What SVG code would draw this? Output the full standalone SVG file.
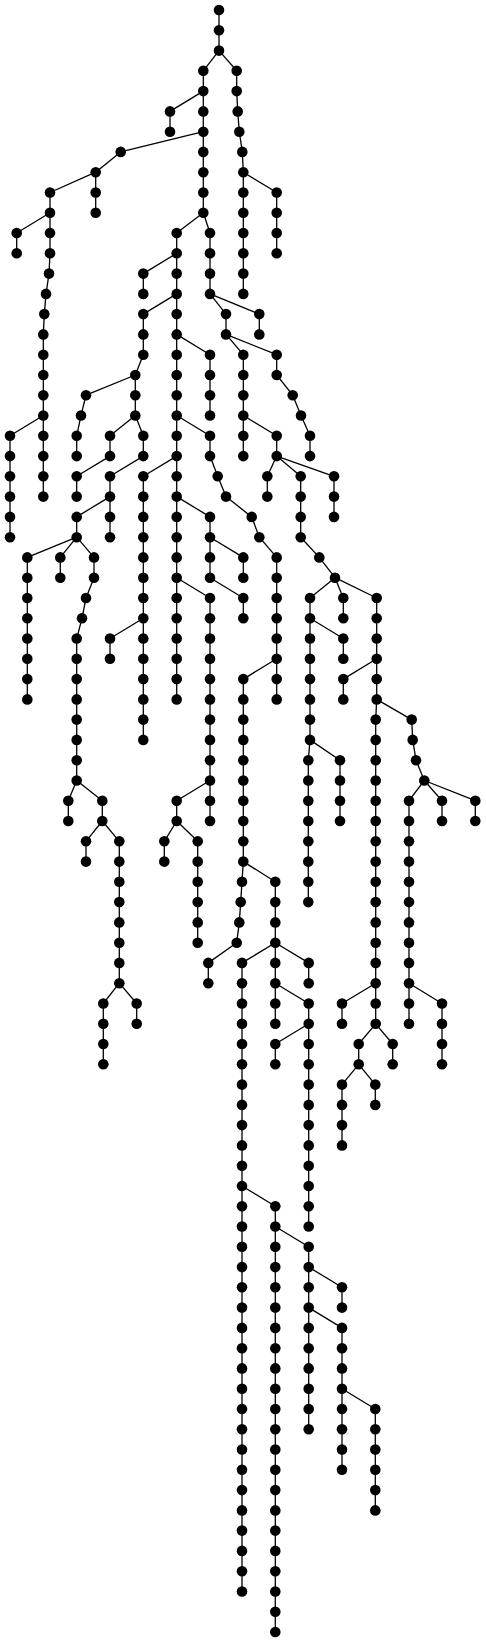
<svg xmlns="http://www.w3.org/2000/svg" width="486" height="1642" viewBox="0 0 486 1642">
<style>
#edges path{stroke:#000;stroke-width:1.3;fill:none}
circle{fill:#000}
</style>
<rect width="486" height="1642" fill="#fff"/>
<g id="edges">
<path d="M219 10V30.3"/><path d="M219 30.3V50.6"/><path d="M219 50.6L203.3 70.8"/><path d="M219 50.6L236.7 70.8"/>
<path d="M203.3 70.8V91.1"/><path d="M236.7 70.8V91.1"/>
<path d="M203.3 91.1L170 111.4"/><path d="M203.3 91.1V111.4"/><path d="M236.7 91.1L237.7 111.4"/>
<path d="M170 111.4V131.7"/><path d="M203.3 111.4V131.7"/><path d="M237.7 111.4L239.3 131.7"/>
<path d="M203.3 131.7L120.7 151.9"/><path d="M203.3 131.7V151.9"/><path d="M239.3 131.7L242.3 151.9"/>
<path d="M120.7 151.9L95.7 172.2"/><path d="M203.3 151.9V172.2"/><path d="M242.3 151.9L243.3 172.2"/>
<path d="M95.7 172.2L50 192.5"/><path d="M95.7 172.2V192.5"/><path d="M203.3 172.2V192.5"/><path d="M243.3 172.2V192.5"/><path d="M243.3 172.2L276.7 192.5"/>
<path d="M50 192.5V212.8"/><path d="M95.7 192.5V212.8"/><path d="M203.3 192.5V212.8"/><path d="M243.3 192.5V212.8"/><path d="M276.7 192.5V212.8"/>
<path d="M50 212.8L16.7 233"/><path d="M50 212.8V233"/><path d="M203.3 212.8L176.7 233"/><path d="M203.3 212.8L210 233"/><path d="M243.3 212.8V233"/><path d="M276.7 212.8V233"/>
<path d="M16.7 233V253.3"/><path d="M50 233V253.3"/><path d="M176.7 233V253.3"/><path d="M210 233V253.3"/><path d="M243.3 233V253.3"/><path d="M276.7 233V253.3"/>
<path d="M50 253.3L49 273.6"/><path d="M176.7 253.3L143.3 273.6"/><path d="M176.7 253.3V273.6"/><path d="M210 253.3V273.6"/><path d="M243.3 253.3V273.6"/>
<path d="M49 273.6L46 293.9"/><path d="M143.3 273.6V293.9"/><path d="M176.7 273.6V293.9"/><path d="M210 273.6V293.9"/><path d="M243.3 273.6V293.9"/>
<path d="M46 293.9L44.3 314.1"/><path d="M176.7 293.9L143.3 314.1"/><path d="M176.7 293.9V314.1"/><path d="M210 293.9L226 314.1"/><path d="M210 293.9L259.3 314.1"/>
<path d="M44.3 314.1L43.3 334.4"/><path d="M143.3 314.1V334.4"/><path d="M176.7 314.1V334.4"/><path d="M226 314.1V334.4"/><path d="M259.3 314.1V334.4"/>
<path d="M43.3 334.4V354.7"/><path d="M143.3 334.4V354.7"/><path d="M176.7 334.4V354.7"/><path d="M176.7 334.4L210 354.7"/><path d="M226 334.4L243.3 354.7"/><path d="M226 334.4L276.7 354.7"/>
<path d="M43.3 354.7V375"/><path d="M143.3 354.7L135.3 375"/><path d="M176.7 354.7V375"/><path d="M210 354.7V375"/><path d="M243.3 354.7V375"/><path d="M276.7 354.7V375"/>
<path d="M43.3 375V395.2"/><path d="M135.3 375L86 395.2"/><path d="M135.3 375V395.2"/><path d="M176.7 375V395.2"/><path d="M210 375V395.2"/><path d="M243.3 375V395.2"/><path d="M276.7 375L292.7 395.2"/>
<path d="M43.3 395.2V415.5"/><path d="M86 395.2L81 415.5"/><path d="M135.3 395.2V415.5"/><path d="M176.7 395.2V415.5"/><path d="M210 395.2V415.5"/><path d="M243.3 395.2V415.5"/><path d="M292.7 395.2L301 415.5"/>
<path d="M43.3 415.5L10 435.8"/><path d="M43.3 415.5V435.8"/><path d="M81 415.5L76.7 435.8"/><path d="M135.3 415.5L110 435.8"/><path d="M135.3 415.5L143.3 435.8"/><path d="M176.7 415.5V435.8"/><path d="M176.7 415.5L210 435.8"/><path d="M243.3 415.5V435.8"/><path d="M243.3 415.5L276.7 435.8"/><path d="M301 415.5L310 435.8"/>
<path d="M10 435.8V456.1"/><path d="M43.3 435.8V456.1"/><path d="M76.7 435.8V456.1"/><path d="M110 435.8V456.1"/><path d="M143.3 435.8V456.1"/><path d="M176.7 435.8V456.1"/><path d="M210 435.8V456.1"/><path d="M243.3 435.8V456.1"/><path d="M276.7 435.8V456.1"/><path d="M310 435.8V456.1"/>
<path d="M10 456.1V476.3"/><path d="M43.3 456.1V476.3"/><path d="M110 456.1L76.7 476.3"/><path d="M143.3 456.1L110 476.3"/><path d="M176.7 456.1L143.3 476.3"/><path d="M176.7 456.1V476.3"/><path d="M210 456.1L217.7 476.3"/><path d="M276.7 456.1L267.3 476.3"/><path d="M276.7 456.1L300.7 476.3"/><path d="M276.7 456.1L334 476.3"/>
<path d="M10 476.3V496.6"/><path d="M43.3 476.3V496.6"/><path d="M76.7 476.3V496.6"/><path d="M110 476.3V496.6"/><path d="M143.3 476.3V496.6"/><path d="M176.7 476.3V496.6"/><path d="M217.7 476.3L226 496.6"/><path d="M267.3 476.3V496.6"/><path d="M300.7 476.3V496.6"/><path d="M334 476.3V496.6"/>
<path d="M10 496.6V516.9"/><path d="M110 496.6L76.7 516.9"/><path d="M110 496.6V516.9"/><path d="M143.3 496.6V516.9"/><path d="M176.7 496.6V516.9"/><path d="M176.7 496.6L210 516.9"/><path d="M226 496.6L251.7 516.9"/><path d="M300.7 496.6V516.9"/><path d="M334 496.6V516.9"/>
<path d="M10 516.9V537.2"/><path d="M76.7 516.9V537.2"/><path d="M110 516.9V537.2"/><path d="M143.3 516.9V537.2"/><path d="M176.7 516.9V537.2"/><path d="M210 516.9V537.2"/><path d="M251.7 516.9L259.3 537.2"/><path d="M300.7 516.9V537.2"/>
<path d="M76.7 537.2L27.3 557.4"/><path d="M76.7 537.2L60.3 557.4"/><path d="M76.7 537.2L94 557.4"/><path d="M143.3 537.2V557.4"/><path d="M176.7 537.2V557.4"/><path d="M210 537.2V557.4"/><path d="M210 537.2L243.3 557.4"/><path d="M259.3 537.2L276.7 557.4"/><path d="M300.7 537.2L319.3 557.4"/>
<path d="M27.3 557.4V577.7"/><path d="M60.3 557.4V577.7"/><path d="M94 557.4V577.7"/><path d="M143.3 557.4V577.7"/><path d="M176.7 557.4V577.7"/><path d="M210 557.4V577.7"/><path d="M243.3 557.4V577.7"/><path d="M276.7 557.4V577.7"/><path d="M319.3 557.4L335 577.7"/>
<path d="M27.3 577.7V598"/><path d="M94 577.7L86 598"/><path d="M143.3 577.7V598"/><path d="M176.7 577.7V598"/><path d="M176.7 577.7L210 598"/><path d="M210 577.7L243.3 598"/><path d="M276.7 577.7V598"/><path d="M335 577.7L310 598"/><path d="M335 577.7L343.3 598"/><path d="M335 577.7L376.7 598"/>
<path d="M27.3 598V618.3"/><path d="M86 598L82 618.3"/><path d="M143.3 598V618.3"/><path d="M176.7 598V618.3"/><path d="M210 598V618.3"/><path d="M243.3 598V618.3"/><path d="M276.7 598V618.3"/><path d="M310 598V618.3"/><path d="M343.3 598V618.3"/><path d="M376.7 598V618.3"/>
<path d="M27.3 618.3V638.5"/><path d="M82 618.3L76.7 638.5"/><path d="M143.3 618.3L110 638.5"/><path d="M143.3 618.3V638.5"/><path d="M176.7 618.3V638.5"/><path d="M210 618.3V638.5"/><path d="M276.7 618.3V638.5"/><path d="M310 618.3V638.5"/><path d="M310 618.3L343.3 638.5"/><path d="M376.7 618.3V638.5"/>
<path d="M27.3 638.5V658.8"/><path d="M76.7 638.5V658.8"/><path d="M110 638.5V658.8"/><path d="M143.3 638.5V658.8"/><path d="M176.7 638.5V658.8"/><path d="M210 638.5V658.8"/><path d="M276.7 638.5V658.8"/><path d="M310 638.5V658.8"/><path d="M343.3 638.5V658.8"/><path d="M376.7 638.5V658.8"/>
<path d="M27.3 658.8V679.1"/><path d="M76.7 658.8V679.1"/><path d="M143.3 658.8V679.1"/><path d="M176.7 658.8V679.1"/><path d="M210 658.8V679.1"/><path d="M276.7 658.8L243.3 679.1"/><path d="M276.7 658.8V679.1"/><path d="M310 658.8V679.1"/><path d="M376.7 658.8L343.3 679.1"/><path d="M376.7 658.8V679.1"/>
<path d="M27.3 679.1V699.4"/><path d="M76.7 679.1V699.4"/><path d="M143.3 679.1V699.4"/><path d="M176.7 679.1V699.4"/><path d="M210 679.1V699.4"/><path d="M243.3 679.1V699.4"/><path d="M276.7 679.1V699.4"/><path d="M310 679.1V699.4"/><path d="M343.3 679.1V699.4"/><path d="M376.7 679.1V699.4"/>
<path d="M76.7 699.4V719.6"/><path d="M143.3 699.4V719.6"/><path d="M210 699.4V719.6"/><path d="M243.3 699.4V719.6"/><path d="M310 699.4V719.6"/><path d="M376.7 699.4L375.7 719.6"/><path d="M376.7 699.4L411.7 719.6"/>
<path d="M76.7 719.6V739.9"/><path d="M143.3 719.6V739.9"/><path d="M210 719.6V739.9"/><path d="M243.3 719.6V739.9"/><path d="M310 719.6V739.9"/><path d="M375.7 719.6V739.9"/><path d="M411.7 719.6L412.7 739.9"/>
<path d="M76.7 739.9V760.2"/><path d="M210 739.9V760.2"/><path d="M243.3 739.9V760.2"/><path d="M310 739.9L308.3 760.2"/><path d="M310 739.9L340 760.2"/><path d="M375.7 739.9V760.2"/><path d="M412.7 739.9L416 760.2"/>
<path d="M76.7 760.2V780.5"/><path d="M210 760.2V780.5"/><path d="M243.3 760.2V780.5"/><path d="M308.3 760.2V780.5"/><path d="M340 760.2V780.5"/><path d="M375.7 760.2V780.5"/><path d="M416 760.2L424.3 780.5"/>
<path d="M76.7 780.5L68.3 800.7"/><path d="M76.7 780.5L102.3 800.7"/><path d="M210 780.5L176.7 800.7"/><path d="M210 780.5V800.7"/><path d="M243.3 780.5V800.7"/><path d="M308.3 780.5V800.7"/><path d="M340 780.5V800.7"/><path d="M375.7 780.5V800.7"/><path d="M424.3 780.5L409 800.7"/><path d="M424.3 780.5L442 800.7"/><path d="M424.3 780.5L475.3 800.7"/>
<path d="M68.3 800.7V821"/><path d="M102.3 800.7V821"/><path d="M176.7 800.7V821"/><path d="M210 800.7V821"/><path d="M243.3 800.7V821"/><path d="M308.3 800.7V821"/><path d="M340 800.7V821"/><path d="M375.7 800.7V821"/><path d="M409 800.7V821"/><path d="M442 800.7V821"/><path d="M475.3 800.7V821"/>
<path d="M102.3 821L86 841.3"/><path d="M102.3 821L119.3 841.3"/><path d="M176.7 821L164.3 841.3"/><path d="M176.7 821L197.7 841.3"/><path d="M243.3 821V841.3"/><path d="M308.3 821V841.3"/><path d="M375.7 821V841.3"/><path d="M409 821V841.3"/>
<path d="M86 841.3V861.6"/><path d="M119.3 841.3V861.6"/><path d="M164.3 841.3V861.6"/><path d="M197.7 841.3V861.6"/><path d="M243.3 841.3V861.6"/><path d="M308.3 841.3V861.6"/><path d="M375.7 841.3V861.6"/><path d="M409 841.3V861.6"/>
<path d="M119.3 861.6V881.8"/><path d="M197.7 861.6V881.8"/><path d="M243.3 861.6L242 881.8"/><path d="M243.3 861.6L275.3 881.8"/><path d="M308.3 861.6V881.8"/><path d="M375.7 861.6V881.8"/><path d="M409 861.6V881.8"/>
<path d="M119.3 881.8V902.1"/><path d="M197.7 881.8V902.1"/><path d="M242 881.8L240.7 902.1"/><path d="M275.3 881.8V902.1"/><path d="M308.3 881.8V902.1"/><path d="M375.7 881.8V902.1"/><path d="M409 881.8V902.1"/>
<path d="M119.3 902.1V922.4"/><path d="M197.7 902.1V922.4"/><path d="M240.7 902.1L239.3 922.4"/><path d="M275.3 902.1V922.4"/><path d="M375.7 902.1V922.4"/><path d="M409 902.1V922.4"/>
<path d="M119.3 922.4V942.7"/><path d="M197.7 922.4V942.7"/><path d="M239.3 922.4L236.7 942.7"/><path d="M275.3 922.4V942.7"/><path d="M375.7 922.4V942.7"/><path d="M409 922.4V942.7"/>
<path d="M119.3 942.7V962.9"/><path d="M236.7 942.7L208.3 962.9"/><path d="M275.3 942.7L242 962.9"/><path d="M275.3 942.7V962.9"/><path d="M275.3 942.7L308.7 962.9"/><path d="M375.7 942.7V962.9"/><path d="M409 942.7V962.9"/>
<path d="M119.3 962.9V983.2"/><path d="M208.3 962.9V983.2"/><path d="M242 962.9V983.2"/><path d="M275.3 962.9V983.2"/><path d="M308.7 962.9V983.2"/><path d="M375.7 962.9V983.2"/><path d="M409 962.9V983.2"/>
<path d="M119.3 983.2L103.3 1003.5"/><path d="M119.3 983.2L136.7 1003.5"/><path d="M242 983.2V1003.5"/><path d="M275.3 983.2V1003.5"/><path d="M275.3 983.2L308.7 1003.5"/><path d="M375.7 983.2L342 1003.5"/><path d="M375.7 983.2V1003.5"/><path d="M409 983.2V1003.5"/><path d="M409 983.2L442 1003.5"/>
<path d="M103.3 1003.5V1023.8"/><path d="M136.7 1003.5V1023.8"/><path d="M242 1003.5V1023.8"/><path d="M275.3 1003.5V1023.8"/><path d="M308.7 1003.5V1023.8"/><path d="M342 1003.5V1023.8"/><path d="M375.7 1003.5V1023.8"/><path d="M409 1003.5V1023.8"/><path d="M442 1003.5V1023.8"/>
<path d="M103.3 1023.8V1044"/><path d="M242 1023.8V1044"/><path d="M308.7 1023.8L275.3 1044"/><path d="M308.7 1023.8V1044"/><path d="M375.7 1023.8L358.7 1044"/><path d="M375.7 1023.8L392.7 1044"/><path d="M442 1023.8V1044"/>
<path d="M103.3 1044V1064.3"/><path d="M242 1044V1064.3"/><path d="M275.3 1044V1064.3"/><path d="M308.7 1044V1064.3"/><path d="M358.7 1044V1064.3"/><path d="M392.7 1044V1064.3"/><path d="M442 1044V1064.3"/>
<path d="M242 1064.3V1084.6"/><path d="M308.7 1064.3V1084.6"/><path d="M358.7 1064.3L342 1084.6"/><path d="M358.7 1064.3L375.3 1084.6"/>
<path d="M242 1084.6V1104.9"/><path d="M308.7 1084.6V1104.9"/><path d="M342 1084.6V1104.9"/><path d="M375.3 1084.6V1104.9"/>
<path d="M242 1104.9V1125.1"/><path d="M308.7 1104.9V1125.1"/><path d="M342 1104.9V1125.1"/>
<path d="M242 1125.1V1145.4"/><path d="M308.7 1125.1V1145.4"/><path d="M342 1125.1V1145.4"/>
<path d="M242 1145.4V1165.7"/><path d="M308.7 1145.4V1165.7"/>
<path d="M242 1165.7V1186"/><path d="M308.7 1165.7V1186"/>
<path d="M242 1186V1206.2"/><path d="M242 1186L275.3 1206.2"/><path d="M308.7 1186V1206.2"/>
<path d="M242 1206.2V1226.5"/><path d="M275.3 1206.2V1226.5"/><path d="M308.7 1206.2V1226.5"/>
<path d="M242 1226.5V1246.8"/><path d="M275.3 1226.5V1246.8"/><path d="M275.3 1226.5L308.7 1246.8"/>
<path d="M242 1246.8V1267.1"/><path d="M275.3 1246.8V1267.1"/><path d="M308.7 1246.8V1267.1"/>
<path d="M242 1267.1V1287.3"/><path d="M275.3 1267.1V1287.3"/><path d="M308.7 1267.1V1287.3"/><path d="M308.7 1267.1L342 1287.3"/>
<path d="M242 1287.3V1307.6"/><path d="M275.3 1287.3V1307.6"/><path d="M308.7 1287.3V1307.6"/><path d="M342 1287.3V1307.6"/>
<path d="M242 1307.6V1327.9"/><path d="M275.3 1307.6V1327.9"/><path d="M308.7 1307.6V1327.9"/><path d="M308.7 1307.6L342 1327.9"/>
<path d="M242 1327.9V1348.2"/><path d="M275.3 1327.9V1348.2"/><path d="M308.7 1327.9V1348.2"/><path d="M342 1327.9V1348.2"/>
<path d="M242 1348.2V1368.4"/><path d="M275.3 1348.2V1368.4"/><path d="M308.7 1348.2V1368.4"/><path d="M342 1348.2V1368.4"/>
<path d="M242 1368.4V1388.7"/><path d="M275.3 1368.4V1388.7"/><path d="M308.7 1368.4V1388.7"/><path d="M342 1368.4V1388.7"/>
<path d="M242 1388.7V1409"/><path d="M275.3 1388.7V1409"/><path d="M308.7 1388.7V1409"/><path d="M342 1388.7V1409"/><path d="M342 1388.7L375.3 1409"/>
<path d="M242 1409V1429.3"/><path d="M275.3 1409V1429.3"/><path d="M308.7 1409V1429.3"/><path d="M342 1409V1429.3"/><path d="M375.3 1409V1429.3"/>
<path d="M242 1429.3V1449.5"/><path d="M275.3 1429.3V1449.5"/><path d="M342 1429.3V1449.5"/><path d="M375.3 1429.3V1449.5"/>
<path d="M242 1449.5V1469.8"/><path d="M275.3 1449.5V1469.8"/><path d="M342 1449.5V1469.8"/><path d="M375.3 1449.5V1469.8"/>
<path d="M242 1469.8V1490.1"/><path d="M275.3 1469.8V1490.1"/><path d="M375.3 1469.8V1490.1"/>
<path d="M242 1490.1V1510.4"/><path d="M275.3 1490.1V1510.4"/><path d="M375.3 1490.1V1510.4"/>
<path d="M242 1510.4V1530.6"/><path d="M275.3 1510.4V1530.6"/>
<path d="M242 1530.6V1550.9"/><path d="M275.3 1530.6V1550.9"/>
<path d="M242 1550.9V1571.2"/><path d="M275.3 1550.9V1571.2"/>
<path d="M242 1571.2V1591.5"/><path d="M275.3 1571.2V1591.5"/>
<path d="M275.3 1591.5V1611.7"/><path d="M275.3 1611.7V1632"/>
</g>
<g id="n0"><circle cx="219" cy="10" r="5.3"/></g>
<g id="n1"><circle cx="219" cy="30.3" r="5.3"/></g>
<g id="n2"><circle cx="219" cy="50.6" r="5.3"/></g>
<g id="n3"><circle cx="203.3" cy="70.8" r="5.3"/></g>
<g id="n4"><circle cx="236.7" cy="70.8" r="5.3"/></g>
<g id="n5"><circle cx="203.3" cy="91.1" r="5.3"/></g>
<g id="n6"><circle cx="236.7" cy="91.1" r="5.3"/></g>
<g id="n7"><circle cx="170" cy="111.4" r="5.3"/></g>
<g id="n8"><circle cx="203.3" cy="111.4" r="5.3"/></g>
<g id="n9"><circle cx="237.7" cy="111.4" r="5.3"/></g>
<g id="n10"><circle cx="170" cy="131.7" r="5.3"/></g>
<g id="n11"><circle cx="203.3" cy="131.7" r="5.3"/></g>
<g id="n12"><circle cx="239.3" cy="131.7" r="5.3"/></g>
<g id="n13"><circle cx="120.7" cy="151.9" r="5.3"/></g>
<g id="n14"><circle cx="203.3" cy="151.9" r="5.3"/></g>
<g id="n15"><circle cx="242.3" cy="151.9" r="5.3"/></g>
<g id="n16"><circle cx="95.7" cy="172.2" r="5.3"/></g>
<g id="n17"><circle cx="203.3" cy="172.2" r="5.3"/></g>
<g id="n18"><circle cx="243.3" cy="172.2" r="5.3"/></g>
<g id="n19"><circle cx="50" cy="192.5" r="5.3"/></g>
<g id="n20"><circle cx="95.7" cy="192.5" r="5.3"/></g>
<g id="n21"><circle cx="203.3" cy="192.5" r="5.3"/></g>
<g id="n22"><circle cx="243.3" cy="192.5" r="5.3"/></g>
<g id="n23"><circle cx="276.7" cy="192.5" r="5.3"/></g>
<g id="n24"><circle cx="50" cy="212.8" r="5.3"/></g>
<g id="n25"><circle cx="95.7" cy="212.8" r="5.3"/></g>
<g id="n26"><circle cx="203.3" cy="212.8" r="5.3"/></g>
<g id="n27"><circle cx="243.3" cy="212.8" r="5.3"/></g>
<g id="n28"><circle cx="276.7" cy="212.8" r="5.3"/></g>
<g id="n29"><circle cx="16.7" cy="233" r="5.3"/></g>
<g id="n30"><circle cx="50" cy="233" r="5.3"/></g>
<g id="n31"><circle cx="176.7" cy="233" r="5.3"/></g>
<g id="n32"><circle cx="210" cy="233" r="5.3"/></g>
<g id="n33"><circle cx="243.3" cy="233" r="5.3"/></g>
<g id="n34"><circle cx="276.7" cy="233" r="5.3"/></g>
<g id="n35"><circle cx="16.7" cy="253.3" r="5.3"/></g>
<g id="n36"><circle cx="50" cy="253.3" r="5.3"/></g>
<g id="n37"><circle cx="176.7" cy="253.3" r="5.3"/></g>
<g id="n38"><circle cx="210" cy="253.3" r="5.3"/></g>
<g id="n39"><circle cx="243.3" cy="253.3" r="5.3"/></g>
<g id="n40"><circle cx="276.7" cy="253.3" r="5.3"/></g>
<g id="n41"><circle cx="49" cy="273.6" r="5.3"/></g>
<g id="n42"><circle cx="143.3" cy="273.6" r="5.3"/></g>
<g id="n43"><circle cx="176.7" cy="273.6" r="5.3"/></g>
<g id="n44"><circle cx="210" cy="273.6" r="5.3"/></g>
<g id="n45"><circle cx="243.3" cy="273.6" r="5.3"/></g>
<g id="n46"><circle cx="46" cy="293.9" r="5.3"/></g>
<g id="n47"><circle cx="143.3" cy="293.9" r="5.3"/></g>
<g id="n48"><circle cx="176.7" cy="293.9" r="5.3"/></g>
<g id="n49"><circle cx="210" cy="293.9" r="5.3"/></g>
<g id="n50"><circle cx="243.3" cy="293.9" r="5.3"/></g>
<g id="n51"><circle cx="44.3" cy="314.1" r="5.3"/></g>
<g id="n52"><circle cx="143.3" cy="314.1" r="5.3"/></g>
<g id="n53"><circle cx="176.7" cy="314.1" r="5.3"/></g>
<g id="n54"><circle cx="226" cy="314.1" r="5.3"/></g>
<g id="n55"><circle cx="259.3" cy="314.1" r="5.3"/></g>
<g id="n56"><circle cx="43.3" cy="334.4" r="5.3"/></g>
<g id="n57"><circle cx="143.3" cy="334.4" r="5.3"/></g>
<g id="n58"><circle cx="176.7" cy="334.4" r="5.3"/></g>
<g id="n59"><circle cx="226" cy="334.4" r="5.3"/></g>
<g id="n60"><circle cx="259.3" cy="334.4" r="5.3"/></g>
<g id="n61"><circle cx="43.3" cy="354.7" r="5.3"/></g>
<g id="n62"><circle cx="143.3" cy="354.7" r="5.3"/></g>
<g id="n63"><circle cx="176.7" cy="354.7" r="5.3"/></g>
<g id="n64"><circle cx="210" cy="354.7" r="5.3"/></g>
<g id="n65"><circle cx="243.3" cy="354.7" r="5.3"/></g>
<g id="n66"><circle cx="276.7" cy="354.7" r="5.3"/></g>
<g id="n67"><circle cx="43.3" cy="375" r="5.3"/></g>
<g id="n68"><circle cx="135.3" cy="375" r="5.3"/></g>
<g id="n69"><circle cx="176.7" cy="375" r="5.3"/></g>
<g id="n70"><circle cx="210" cy="375" r="5.3"/></g>
<g id="n71"><circle cx="243.3" cy="375" r="5.3"/></g>
<g id="n72"><circle cx="276.7" cy="375" r="5.3"/></g>
<g id="n73"><circle cx="43.3" cy="395.2" r="5.3"/></g>
<g id="n74"><circle cx="86" cy="395.2" r="5.3"/></g>
<g id="n75"><circle cx="135.3" cy="395.2" r="5.3"/></g>
<g id="n76"><circle cx="176.7" cy="395.2" r="5.3"/></g>
<g id="n77"><circle cx="210" cy="395.2" r="5.3"/></g>
<g id="n78"><circle cx="243.3" cy="395.2" r="5.3"/></g>
<g id="n79"><circle cx="292.7" cy="395.2" r="5.3"/></g>
<g id="n80"><circle cx="43.3" cy="415.5" r="5.3"/></g>
<g id="n81"><circle cx="81" cy="415.5" r="5.3"/></g>
<g id="n82"><circle cx="135.3" cy="415.5" r="5.3"/></g>
<g id="n83"><circle cx="176.7" cy="415.5" r="5.3"/></g>
<g id="n84"><circle cx="210" cy="415.5" r="5.3"/></g>
<g id="n85"><circle cx="243.3" cy="415.5" r="5.3"/></g>
<g id="n86"><circle cx="301" cy="415.5" r="5.3"/></g>
<g id="n87"><circle cx="10" cy="435.8" r="5.3"/></g>
<g id="n88"><circle cx="43.3" cy="435.8" r="5.3"/></g>
<g id="n89"><circle cx="76.7" cy="435.8" r="5.3"/></g>
<g id="n90"><circle cx="110" cy="435.8" r="5.3"/></g>
<g id="n91"><circle cx="143.3" cy="435.8" r="5.3"/></g>
<g id="n92"><circle cx="176.7" cy="435.8" r="5.3"/></g>
<g id="n93"><circle cx="210" cy="435.8" r="5.3"/></g>
<g id="n94"><circle cx="243.3" cy="435.8" r="5.3"/></g>
<g id="n95"><circle cx="276.7" cy="435.8" r="5.3"/></g>
<g id="n96"><circle cx="310" cy="435.8" r="5.3"/></g>
<g id="n97"><circle cx="10" cy="456.1" r="5.3"/></g>
<g id="n98"><circle cx="43.3" cy="456.1" r="5.3"/></g>
<g id="n99"><circle cx="76.7" cy="456.1" r="5.3"/></g>
<g id="n100"><circle cx="110" cy="456.1" r="5.3"/></g>
<g id="n101"><circle cx="143.3" cy="456.1" r="5.3"/></g>
<g id="n102"><circle cx="176.7" cy="456.1" r="5.3"/></g>
<g id="n103"><circle cx="210" cy="456.1" r="5.3"/></g>
<g id="n104"><circle cx="243.3" cy="456.1" r="5.3"/></g>
<g id="n105"><circle cx="276.7" cy="456.1" r="5.3"/></g>
<g id="n106"><circle cx="310" cy="456.1" r="5.3"/></g>
<g id="n107"><circle cx="10" cy="476.3" r="5.3"/></g>
<g id="n108"><circle cx="43.3" cy="476.3" r="5.3"/></g>
<g id="n109"><circle cx="76.7" cy="476.3" r="5.3"/></g>
<g id="n110"><circle cx="110" cy="476.3" r="5.3"/></g>
<g id="n111"><circle cx="143.3" cy="476.3" r="5.3"/></g>
<g id="n112"><circle cx="176.7" cy="476.3" r="5.3"/></g>
<g id="n113"><circle cx="217.7" cy="476.3" r="5.3"/></g>
<g id="n114"><circle cx="267.3" cy="476.3" r="5.3"/></g>
<g id="n115"><circle cx="300.7" cy="476.3" r="5.3"/></g>
<g id="n116"><circle cx="334" cy="476.3" r="5.3"/></g>
<g id="n117"><circle cx="10" cy="496.6" r="5.3"/></g>
<g id="n118"><circle cx="43.3" cy="496.6" r="5.3"/></g>
<g id="n119"><circle cx="76.7" cy="496.6" r="5.3"/></g>
<g id="n120"><circle cx="110" cy="496.6" r="5.3"/></g>
<g id="n121"><circle cx="143.3" cy="496.6" r="5.3"/></g>
<g id="n122"><circle cx="176.7" cy="496.6" r="5.3"/></g>
<g id="n123"><circle cx="226" cy="496.6" r="5.3"/></g>
<g id="n124"><circle cx="267.3" cy="496.6" r="5.3"/></g>
<g id="n125"><circle cx="300.7" cy="496.6" r="5.3"/></g>
<g id="n126"><circle cx="334" cy="496.6" r="5.3"/></g>
<g id="n127"><circle cx="10" cy="516.9" r="5.3"/></g>
<g id="n128"><circle cx="76.7" cy="516.9" r="5.3"/></g>
<g id="n129"><circle cx="110" cy="516.9" r="5.3"/></g>
<g id="n130"><circle cx="143.3" cy="516.9" r="5.3"/></g>
<g id="n131"><circle cx="176.7" cy="516.9" r="5.3"/></g>
<g id="n132"><circle cx="210" cy="516.9" r="5.3"/></g>
<g id="n133"><circle cx="251.7" cy="516.9" r="5.3"/></g>
<g id="n134"><circle cx="300.7" cy="516.9" r="5.3"/></g>
<g id="n135"><circle cx="334" cy="516.9" r="5.3"/></g>
<g id="n136"><circle cx="10" cy="537.2" r="5.3"/></g>
<g id="n137"><circle cx="76.7" cy="537.2" r="5.3"/></g>
<g id="n138"><circle cx="110" cy="537.2" r="5.3"/></g>
<g id="n139"><circle cx="143.3" cy="537.2" r="5.3"/></g>
<g id="n140"><circle cx="176.7" cy="537.2" r="5.3"/></g>
<g id="n141"><circle cx="210" cy="537.2" r="5.3"/></g>
<g id="n142"><circle cx="259.3" cy="537.2" r="5.3"/></g>
<g id="n143"><circle cx="300.7" cy="537.2" r="5.3"/></g>
<g id="n144"><circle cx="27.3" cy="557.4" r="5.3"/></g>
<g id="n145"><circle cx="60.3" cy="557.4" r="5.3"/></g>
<g id="n146"><circle cx="94" cy="557.4" r="5.3"/></g>
<g id="n147"><circle cx="143.3" cy="557.4" r="5.3"/></g>
<g id="n148"><circle cx="176.7" cy="557.4" r="5.3"/></g>
<g id="n149"><circle cx="210" cy="557.4" r="5.3"/></g>
<g id="n150"><circle cx="243.3" cy="557.4" r="5.3"/></g>
<g id="n151"><circle cx="276.7" cy="557.4" r="5.3"/></g>
<g id="n152"><circle cx="319.3" cy="557.4" r="5.3"/></g>
<g id="n153"><circle cx="27.3" cy="577.7" r="5.3"/></g>
<g id="n154"><circle cx="60.3" cy="577.7" r="5.3"/></g>
<g id="n155"><circle cx="94" cy="577.7" r="5.3"/></g>
<g id="n156"><circle cx="143.3" cy="577.7" r="5.3"/></g>
<g id="n157"><circle cx="176.7" cy="577.7" r="5.3"/></g>
<g id="n158"><circle cx="210" cy="577.7" r="5.3"/></g>
<g id="n159"><circle cx="243.3" cy="577.7" r="5.3"/></g>
<g id="n160"><circle cx="276.7" cy="577.7" r="5.3"/></g>
<g id="n161"><circle cx="335" cy="577.7" r="5.3"/></g>
<g id="n162"><circle cx="27.3" cy="598" r="5.3"/></g>
<g id="n163"><circle cx="86" cy="598" r="5.3"/></g>
<g id="n164"><circle cx="143.3" cy="598" r="5.3"/></g>
<g id="n165"><circle cx="176.7" cy="598" r="5.3"/></g>
<g id="n166"><circle cx="210" cy="598" r="5.3"/></g>
<g id="n167"><circle cx="243.3" cy="598" r="5.3"/></g>
<g id="n168"><circle cx="276.7" cy="598" r="5.3"/></g>
<g id="n169"><circle cx="310" cy="598" r="5.3"/></g>
<g id="n170"><circle cx="343.3" cy="598" r="5.3"/></g>
<g id="n171"><circle cx="376.7" cy="598" r="5.3"/></g>
<g id="n172"><circle cx="27.3" cy="618.3" r="5.3"/></g>
<g id="n173"><circle cx="82" cy="618.3" r="5.3"/></g>
<g id="n174"><circle cx="143.3" cy="618.3" r="5.3"/></g>
<g id="n175"><circle cx="176.7" cy="618.3" r="5.3"/></g>
<g id="n176"><circle cx="210" cy="618.3" r="5.3"/></g>
<g id="n177"><circle cx="243.3" cy="618.3" r="5.3"/></g>
<g id="n178"><circle cx="276.7" cy="618.3" r="5.3"/></g>
<g id="n179"><circle cx="310" cy="618.3" r="5.3"/></g>
<g id="n180"><circle cx="343.3" cy="618.3" r="5.3"/></g>
<g id="n181"><circle cx="376.7" cy="618.3" r="5.3"/></g>
<g id="n182"><circle cx="27.3" cy="638.5" r="5.3"/></g>
<g id="n183"><circle cx="76.7" cy="638.5" r="5.3"/></g>
<g id="n184"><circle cx="110" cy="638.5" r="5.3"/></g>
<g id="n185"><circle cx="143.3" cy="638.5" r="5.3"/></g>
<g id="n186"><circle cx="176.7" cy="638.5" r="5.3"/></g>
<g id="n187"><circle cx="210" cy="638.5" r="5.3"/></g>
<g id="n188"><circle cx="276.7" cy="638.5" r="5.3"/></g>
<g id="n189"><circle cx="310" cy="638.5" r="5.3"/></g>
<g id="n190"><circle cx="343.3" cy="638.5" r="5.3"/></g>
<g id="n191"><circle cx="376.7" cy="638.5" r="5.3"/></g>
<g id="n192"><circle cx="27.3" cy="658.8" r="5.3"/></g>
<g id="n193"><circle cx="76.7" cy="658.8" r="5.3"/></g>
<g id="n194"><circle cx="110" cy="658.8" r="5.3"/></g>
<g id="n195"><circle cx="143.3" cy="658.8" r="5.3"/></g>
<g id="n196"><circle cx="176.7" cy="658.8" r="5.3"/></g>
<g id="n197"><circle cx="210" cy="658.8" r="5.3"/></g>
<g id="n198"><circle cx="276.7" cy="658.8" r="5.3"/></g>
<g id="n199"><circle cx="310" cy="658.8" r="5.3"/></g>
<g id="n200"><circle cx="343.3" cy="658.8" r="5.3"/></g>
<g id="n201"><circle cx="376.7" cy="658.8" r="5.3"/></g>
<g id="n202"><circle cx="27.3" cy="679.1" r="5.3"/></g>
<g id="n203"><circle cx="76.7" cy="679.1" r="5.3"/></g>
<g id="n204"><circle cx="143.3" cy="679.1" r="5.3"/></g>
<g id="n205"><circle cx="176.7" cy="679.1" r="5.3"/></g>
<g id="n206"><circle cx="210" cy="679.1" r="5.3"/></g>
<g id="n207"><circle cx="243.3" cy="679.1" r="5.3"/></g>
<g id="n208"><circle cx="276.7" cy="679.1" r="5.3"/></g>
<g id="n209"><circle cx="310" cy="679.1" r="5.3"/></g>
<g id="n210"><circle cx="343.3" cy="679.1" r="5.3"/></g>
<g id="n211"><circle cx="376.7" cy="679.1" r="5.3"/></g>
<g id="n212"><circle cx="27.3" cy="699.4" r="5.3"/></g>
<g id="n213"><circle cx="76.7" cy="699.4" r="5.3"/></g>
<g id="n214"><circle cx="143.3" cy="699.4" r="5.3"/></g>
<g id="n215"><circle cx="176.7" cy="699.4" r="5.3"/></g>
<g id="n216"><circle cx="210" cy="699.4" r="5.3"/></g>
<g id="n217"><circle cx="243.3" cy="699.4" r="5.3"/></g>
<g id="n218"><circle cx="276.7" cy="699.4" r="5.3"/></g>
<g id="n219"><circle cx="310" cy="699.4" r="5.3"/></g>
<g id="n220"><circle cx="343.3" cy="699.4" r="5.3"/></g>
<g id="n221"><circle cx="376.7" cy="699.4" r="5.3"/></g>
<g id="n222"><circle cx="76.7" cy="719.6" r="5.3"/></g>
<g id="n223"><circle cx="143.3" cy="719.6" r="5.3"/></g>
<g id="n224"><circle cx="210" cy="719.6" r="5.3"/></g>
<g id="n225"><circle cx="243.3" cy="719.6" r="5.3"/></g>
<g id="n226"><circle cx="310" cy="719.6" r="5.3"/></g>
<g id="n227"><circle cx="375.7" cy="719.6" r="5.3"/></g>
<g id="n228"><circle cx="411.7" cy="719.6" r="5.3"/></g>
<g id="n229"><circle cx="76.7" cy="739.9" r="5.3"/></g>
<g id="n230"><circle cx="143.3" cy="739.9" r="5.3"/></g>
<g id="n231"><circle cx="210" cy="739.9" r="5.3"/></g>
<g id="n232"><circle cx="243.3" cy="739.9" r="5.3"/></g>
<g id="n233"><circle cx="310" cy="739.9" r="5.3"/></g>
<g id="n234"><circle cx="375.7" cy="739.9" r="5.3"/></g>
<g id="n235"><circle cx="412.7" cy="739.9" r="5.3"/></g>
<g id="n236"><circle cx="76.7" cy="760.2" r="5.3"/></g>
<g id="n237"><circle cx="210" cy="760.2" r="5.3"/></g>
<g id="n238"><circle cx="243.3" cy="760.2" r="5.3"/></g>
<g id="n239"><circle cx="308.3" cy="760.2" r="5.3"/></g>
<g id="n240"><circle cx="340" cy="760.2" r="5.3"/></g>
<g id="n241"><circle cx="375.7" cy="760.2" r="5.3"/></g>
<g id="n242"><circle cx="416" cy="760.2" r="5.3"/></g>
<g id="n243"><circle cx="76.7" cy="780.5" r="5.3"/></g>
<g id="n244"><circle cx="210" cy="780.5" r="5.3"/></g>
<g id="n245"><circle cx="243.3" cy="780.5" r="5.3"/></g>
<g id="n246"><circle cx="308.3" cy="780.5" r="5.3"/></g>
<g id="n247"><circle cx="340" cy="780.5" r="5.3"/></g>
<g id="n248"><circle cx="375.7" cy="780.5" r="5.3"/></g>
<g id="n249"><circle cx="424.3" cy="780.5" r="5.3"/></g>
<g id="n250"><circle cx="68.3" cy="800.7" r="5.3"/></g>
<g id="n251"><circle cx="102.3" cy="800.7" r="5.3"/></g>
<g id="n252"><circle cx="176.7" cy="800.7" r="5.3"/></g>
<g id="n253"><circle cx="210" cy="800.7" r="5.3"/></g>
<g id="n254"><circle cx="243.3" cy="800.7" r="5.3"/></g>
<g id="n255"><circle cx="308.3" cy="800.7" r="5.3"/></g>
<g id="n256"><circle cx="340" cy="800.7" r="5.3"/></g>
<g id="n257"><circle cx="375.7" cy="800.7" r="5.3"/></g>
<g id="n258"><circle cx="409" cy="800.7" r="5.3"/></g>
<g id="n259"><circle cx="442" cy="800.7" r="5.3"/></g>
<g id="n260"><circle cx="475.3" cy="800.7" r="5.3"/></g>
<g id="n261"><circle cx="68.3" cy="821" r="5.3"/></g>
<g id="n262"><circle cx="102.3" cy="821" r="5.3"/></g>
<g id="n263"><circle cx="176.7" cy="821" r="5.3"/></g>
<g id="n264"><circle cx="210" cy="821" r="5.3"/></g>
<g id="n265"><circle cx="243.3" cy="821" r="5.3"/></g>
<g id="n266"><circle cx="308.3" cy="821" r="5.3"/></g>
<g id="n267"><circle cx="340" cy="821" r="5.3"/></g>
<g id="n268"><circle cx="375.7" cy="821" r="5.3"/></g>
<g id="n269"><circle cx="409" cy="821" r="5.3"/></g>
<g id="n270"><circle cx="442" cy="821" r="5.3"/></g>
<g id="n271"><circle cx="475.3" cy="821" r="5.3"/></g>
<g id="n272"><circle cx="86" cy="841.3" r="5.3"/></g>
<g id="n273"><circle cx="119.3" cy="841.3" r="5.3"/></g>
<g id="n274"><circle cx="164.3" cy="841.3" r="5.3"/></g>
<g id="n275"><circle cx="197.7" cy="841.3" r="5.3"/></g>
<g id="n276"><circle cx="243.3" cy="841.3" r="5.3"/></g>
<g id="n277"><circle cx="308.3" cy="841.3" r="5.3"/></g>
<g id="n278"><circle cx="375.7" cy="841.3" r="5.3"/></g>
<g id="n279"><circle cx="409" cy="841.3" r="5.3"/></g>
<g id="n280"><circle cx="86" cy="861.6" r="5.3"/></g>
<g id="n281"><circle cx="119.3" cy="861.6" r="5.3"/></g>
<g id="n282"><circle cx="164.3" cy="861.6" r="5.3"/></g>
<g id="n283"><circle cx="197.7" cy="861.6" r="5.3"/></g>
<g id="n284"><circle cx="243.3" cy="861.6" r="5.3"/></g>
<g id="n285"><circle cx="308.3" cy="861.6" r="5.3"/></g>
<g id="n286"><circle cx="375.7" cy="861.6" r="5.3"/></g>
<g id="n287"><circle cx="409" cy="861.6" r="5.3"/></g>
<g id="n288"><circle cx="119.3" cy="881.8" r="5.3"/></g>
<g id="n289"><circle cx="197.7" cy="881.8" r="5.3"/></g>
<g id="n290"><circle cx="242" cy="881.8" r="5.3"/></g>
<g id="n291"><circle cx="275.3" cy="881.8" r="5.3"/></g>
<g id="n292"><circle cx="308.3" cy="881.8" r="5.3"/></g>
<g id="n293"><circle cx="375.7" cy="881.8" r="5.3"/></g>
<g id="n294"><circle cx="409" cy="881.8" r="5.3"/></g>
<g id="n295"><circle cx="119.3" cy="902.1" r="5.3"/></g>
<g id="n296"><circle cx="197.7" cy="902.1" r="5.3"/></g>
<g id="n297"><circle cx="240.7" cy="902.1" r="5.3"/></g>
<g id="n298"><circle cx="275.3" cy="902.1" r="5.3"/></g>
<g id="n299"><circle cx="308.3" cy="902.1" r="5.3"/></g>
<g id="n300"><circle cx="375.7" cy="902.1" r="5.3"/></g>
<g id="n301"><circle cx="409" cy="902.1" r="5.3"/></g>
<g id="n302"><circle cx="119.3" cy="922.4" r="5.3"/></g>
<g id="n303"><circle cx="197.7" cy="922.4" r="5.3"/></g>
<g id="n304"><circle cx="239.3" cy="922.4" r="5.3"/></g>
<g id="n305"><circle cx="275.3" cy="922.4" r="5.3"/></g>
<g id="n306"><circle cx="375.7" cy="922.4" r="5.3"/></g>
<g id="n307"><circle cx="409" cy="922.4" r="5.3"/></g>
<g id="n308"><circle cx="119.3" cy="942.7" r="5.3"/></g>
<g id="n309"><circle cx="197.7" cy="942.7" r="5.3"/></g>
<g id="n310"><circle cx="236.7" cy="942.7" r="5.3"/></g>
<g id="n311"><circle cx="275.3" cy="942.7" r="5.3"/></g>
<g id="n312"><circle cx="375.7" cy="942.7" r="5.3"/></g>
<g id="n313"><circle cx="409" cy="942.7" r="5.3"/></g>
<g id="n314"><circle cx="119.3" cy="962.9" r="5.3"/></g>
<g id="n315"><circle cx="208.3" cy="962.9" r="5.3"/></g>
<g id="n316"><circle cx="242" cy="962.9" r="5.3"/></g>
<g id="n317"><circle cx="275.3" cy="962.9" r="5.3"/></g>
<g id="n318"><circle cx="308.7" cy="962.9" r="5.3"/></g>
<g id="n319"><circle cx="375.7" cy="962.9" r="5.3"/></g>
<g id="n320"><circle cx="409" cy="962.9" r="5.3"/></g>
<g id="n321"><circle cx="119.3" cy="983.2" r="5.3"/></g>
<g id="n322"><circle cx="208.3" cy="983.2" r="5.3"/></g>
<g id="n323"><circle cx="242" cy="983.2" r="5.3"/></g>
<g id="n324"><circle cx="275.3" cy="983.2" r="5.3"/></g>
<g id="n325"><circle cx="308.7" cy="983.2" r="5.3"/></g>
<g id="n326"><circle cx="375.7" cy="983.2" r="5.3"/></g>
<g id="n327"><circle cx="409" cy="983.2" r="5.3"/></g>
<g id="n328"><circle cx="103.3" cy="1003.5" r="5.3"/></g>
<g id="n329"><circle cx="136.7" cy="1003.5" r="5.3"/></g>
<g id="n330"><circle cx="242" cy="1003.5" r="5.3"/></g>
<g id="n331"><circle cx="275.3" cy="1003.5" r="5.3"/></g>
<g id="n332"><circle cx="308.7" cy="1003.5" r="5.3"/></g>
<g id="n333"><circle cx="342" cy="1003.5" r="5.3"/></g>
<g id="n334"><circle cx="375.7" cy="1003.5" r="5.3"/></g>
<g id="n335"><circle cx="409" cy="1003.5" r="5.3"/></g>
<g id="n336"><circle cx="442" cy="1003.5" r="5.3"/></g>
<g id="n337"><circle cx="103.3" cy="1023.8" r="5.3"/></g>
<g id="n338"><circle cx="136.7" cy="1023.8" r="5.3"/></g>
<g id="n339"><circle cx="242" cy="1023.8" r="5.3"/></g>
<g id="n340"><circle cx="275.3" cy="1023.8" r="5.3"/></g>
<g id="n341"><circle cx="308.7" cy="1023.8" r="5.3"/></g>
<g id="n342"><circle cx="342" cy="1023.8" r="5.3"/></g>
<g id="n343"><circle cx="375.7" cy="1023.8" r="5.3"/></g>
<g id="n344"><circle cx="409" cy="1023.8" r="5.3"/></g>
<g id="n345"><circle cx="442" cy="1023.8" r="5.3"/></g>
<g id="n346"><circle cx="103.3" cy="1044" r="5.3"/></g>
<g id="n347"><circle cx="242" cy="1044" r="5.3"/></g>
<g id="n348"><circle cx="275.3" cy="1044" r="5.3"/></g>
<g id="n349"><circle cx="308.7" cy="1044" r="5.3"/></g>
<g id="n350"><circle cx="358.7" cy="1044" r="5.3"/></g>
<g id="n351"><circle cx="392.7" cy="1044" r="5.3"/></g>
<g id="n352"><circle cx="442" cy="1044" r="5.3"/></g>
<g id="n353"><circle cx="103.3" cy="1064.3" r="5.3"/></g>
<g id="n354"><circle cx="242" cy="1064.3" r="5.3"/></g>
<g id="n355"><circle cx="275.3" cy="1064.3" r="5.3"/></g>
<g id="n356"><circle cx="308.7" cy="1064.3" r="5.3"/></g>
<g id="n357"><circle cx="358.7" cy="1064.3" r="5.3"/></g>
<g id="n358"><circle cx="392.7" cy="1064.3" r="5.3"/></g>
<g id="n359"><circle cx="442" cy="1064.3" r="5.3"/></g>
<g id="n360"><circle cx="242" cy="1084.6" r="5.3"/></g>
<g id="n361"><circle cx="308.7" cy="1084.6" r="5.3"/></g>
<g id="n362"><circle cx="342" cy="1084.6" r="5.3"/></g>
<g id="n363"><circle cx="375.3" cy="1084.6" r="5.3"/></g>
<g id="n364"><circle cx="242" cy="1104.9" r="5.3"/></g>
<g id="n365"><circle cx="308.7" cy="1104.9" r="5.3"/></g>
<g id="n366"><circle cx="342" cy="1104.9" r="5.3"/></g>
<g id="n367"><circle cx="375.3" cy="1104.9" r="5.3"/></g>
<g id="n368"><circle cx="242" cy="1125.1" r="5.3"/></g>
<g id="n369"><circle cx="308.7" cy="1125.1" r="5.3"/></g>
<g id="n370"><circle cx="342" cy="1125.1" r="5.3"/></g>
<g id="n371"><circle cx="242" cy="1145.4" r="5.3"/></g>
<g id="n372"><circle cx="308.7" cy="1145.4" r="5.3"/></g>
<g id="n373"><circle cx="342" cy="1145.4" r="5.3"/></g>
<g id="n374"><circle cx="242" cy="1165.7" r="5.3"/></g>
<g id="n375"><circle cx="308.7" cy="1165.7" r="5.3"/></g>
<g id="n376"><circle cx="242" cy="1186" r="5.3"/></g>
<g id="n377"><circle cx="308.7" cy="1186" r="5.3"/></g>
<g id="n378"><circle cx="242" cy="1206.2" r="5.3"/></g>
<g id="n379"><circle cx="275.3" cy="1206.2" r="5.3"/></g>
<g id="n380"><circle cx="308.7" cy="1206.2" r="5.3"/></g>
<g id="n381"><circle cx="242" cy="1226.5" r="5.3"/></g>
<g id="n382"><circle cx="275.3" cy="1226.5" r="5.3"/></g>
<g id="n383"><circle cx="308.7" cy="1226.5" r="5.3"/></g>
<g id="n384"><circle cx="242" cy="1246.8" r="5.3"/></g>
<g id="n385"><circle cx="275.3" cy="1246.8" r="5.3"/></g>
<g id="n386"><circle cx="308.7" cy="1246.8" r="5.3"/></g>
<g id="n387"><circle cx="242" cy="1267.1" r="5.3"/></g>
<g id="n388"><circle cx="275.3" cy="1267.1" r="5.3"/></g>
<g id="n389"><circle cx="308.7" cy="1267.1" r="5.3"/></g>
<g id="n390"><circle cx="242" cy="1287.3" r="5.3"/></g>
<g id="n391"><circle cx="275.3" cy="1287.3" r="5.3"/></g>
<g id="n392"><circle cx="308.7" cy="1287.3" r="5.3"/></g>
<g id="n393"><circle cx="342" cy="1287.3" r="5.3"/></g>
<g id="n394"><circle cx="242" cy="1307.6" r="5.3"/></g>
<g id="n395"><circle cx="275.3" cy="1307.6" r="5.3"/></g>
<g id="n396"><circle cx="308.7" cy="1307.6" r="5.3"/></g>
<g id="n397"><circle cx="342" cy="1307.6" r="5.3"/></g>
<g id="n398"><circle cx="242" cy="1327.9" r="5.3"/></g>
<g id="n399"><circle cx="275.3" cy="1327.9" r="5.3"/></g>
<g id="n400"><circle cx="308.7" cy="1327.9" r="5.3"/></g>
<g id="n401"><circle cx="342" cy="1327.9" r="5.3"/></g>
<g id="n402"><circle cx="242" cy="1348.2" r="5.3"/></g>
<g id="n403"><circle cx="275.3" cy="1348.2" r="5.3"/></g>
<g id="n404"><circle cx="308.7" cy="1348.2" r="5.3"/></g>
<g id="n405"><circle cx="342" cy="1348.2" r="5.3"/></g>
<g id="n406"><circle cx="242" cy="1368.4" r="5.3"/></g>
<g id="n407"><circle cx="275.3" cy="1368.4" r="5.3"/></g>
<g id="n408"><circle cx="308.7" cy="1368.4" r="5.3"/></g>
<g id="n409"><circle cx="342" cy="1368.4" r="5.3"/></g>
<g id="n410"><circle cx="242" cy="1388.7" r="5.3"/></g>
<g id="n411"><circle cx="275.3" cy="1388.7" r="5.3"/></g>
<g id="n412"><circle cx="308.7" cy="1388.7" r="5.3"/></g>
<g id="n413"><circle cx="342" cy="1388.7" r="5.3"/></g>
<g id="n414"><circle cx="242" cy="1409" r="5.3"/></g>
<g id="n415"><circle cx="275.3" cy="1409" r="5.3"/></g>
<g id="n416"><circle cx="308.7" cy="1409" r="5.3"/></g>
<g id="n417"><circle cx="342" cy="1409" r="5.3"/></g>
<g id="n418"><circle cx="375.3" cy="1409" r="5.3"/></g>
<g id="n419"><circle cx="242" cy="1429.3" r="5.3"/></g>
<g id="n420"><circle cx="275.3" cy="1429.3" r="5.3"/></g>
<g id="n421"><circle cx="308.7" cy="1429.3" r="5.3"/></g>
<g id="n422"><circle cx="342" cy="1429.3" r="5.3"/></g>
<g id="n423"><circle cx="375.3" cy="1429.3" r="5.3"/></g>
<g id="n424"><circle cx="242" cy="1449.5" r="5.3"/></g>
<g id="n425"><circle cx="275.3" cy="1449.5" r="5.3"/></g>
<g id="n426"><circle cx="342" cy="1449.5" r="5.3"/></g>
<g id="n427"><circle cx="375.3" cy="1449.5" r="5.3"/></g>
<g id="n428"><circle cx="242" cy="1469.8" r="5.3"/></g>
<g id="n429"><circle cx="275.3" cy="1469.8" r="5.3"/></g>
<g id="n430"><circle cx="342" cy="1469.8" r="5.3"/></g>
<g id="n431"><circle cx="375.3" cy="1469.8" r="5.3"/></g>
<g id="n432"><circle cx="242" cy="1490.1" r="5.3"/></g>
<g id="n433"><circle cx="275.3" cy="1490.1" r="5.3"/></g>
<g id="n434"><circle cx="375.3" cy="1490.1" r="5.3"/></g>
<g id="n435"><circle cx="242" cy="1510.4" r="5.3"/></g>
<g id="n436"><circle cx="275.3" cy="1510.4" r="5.3"/></g>
<g id="n437"><circle cx="375.3" cy="1510.4" r="5.3"/></g>
<g id="n438"><circle cx="242" cy="1530.6" r="5.3"/></g>
<g id="n439"><circle cx="275.3" cy="1530.6" r="5.3"/></g>
<g id="n440"><circle cx="242" cy="1550.9" r="5.3"/></g>
<g id="n441"><circle cx="275.3" cy="1550.9" r="5.3"/></g>
<g id="n442"><circle cx="242" cy="1571.2" r="5.3"/></g>
<g id="n443"><circle cx="275.3" cy="1571.2" r="5.3"/></g>
<g id="n444"><circle cx="242" cy="1591.5" r="5.3"/></g>
<g id="n445"><circle cx="275.3" cy="1591.5" r="5.3"/></g>
<g id="n446"><circle cx="275.3" cy="1611.7" r="5.3"/></g>
<g id="n447"><circle cx="275.3" cy="1632" r="5.3"/></g>
</svg>
